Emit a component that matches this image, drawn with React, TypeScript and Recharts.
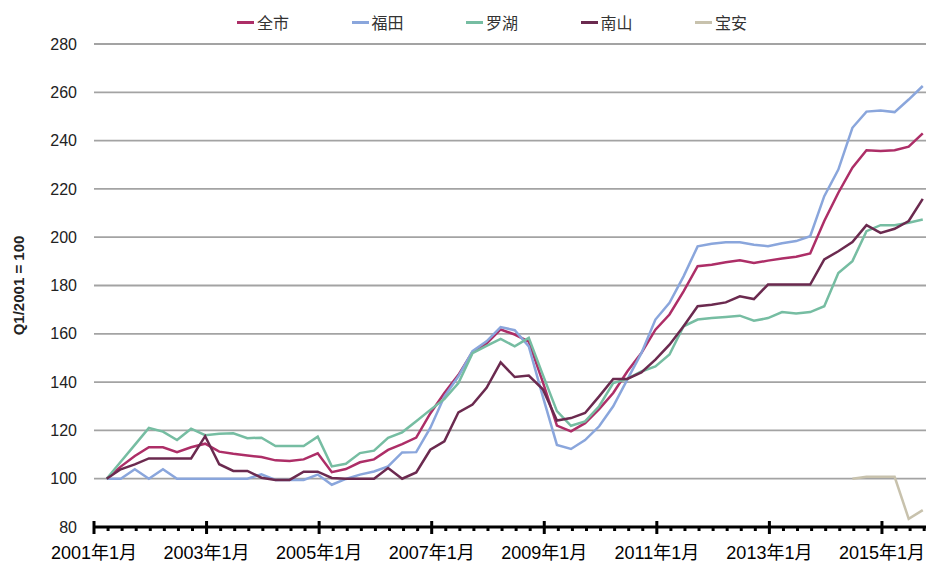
import React from 'react';
import { LineChart, Line, XAxis, YAxis, CartesianGrid, Legend } from 'recharts';

// Quarterly categories (Q1/2001 = 100)
const quarters = [
  '2001Q1', '2001Q2', '2001Q3', '2001Q4',
  '2002Q1', '2002Q2', '2002Q3', '2002Q4',
  '2003Q1', '2003Q2', '2003Q3', '2003Q4',
  '2004Q1', '2004Q2', '2004Q3', '2004Q4',
  '2005Q1', '2005Q2', '2005Q3', '2005Q4',
  '2006Q1', '2006Q2', '2006Q3', '2006Q4',
  '2007Q1', '2007Q2', '2007Q3', '2007Q4',
  '2008Q1', '2008Q2', '2008Q3', '2008Q4',
  '2009Q1', '2009Q2', '2009Q3', '2009Q4',
  '2010Q1', '2010Q2', '2010Q3', '2010Q4',
  '2011Q1', '2011Q2', '2011Q3', '2011Q4',
  '2012Q1', '2012Q2', '2012Q3', '2012Q4',
  '2013Q1', '2013Q2', '2013Q3', '2013Q4',
  '2014Q1', '2014Q2', '2014Q3', '2014Q4',
  '2015Q1', '2015Q2', '2015Q3',
];

const quanshi = [
  100, 105, 109.4, 113, 113, 111, 113, 114.5,
  111.2, 110.3, 109.6, 109, 107.6, 107.3, 108, 110.5,
  102.7, 104, 106.8, 108, 111.9, 114.3, 117, 127,
  135.5, 143, 152.5, 156, 161.8, 159.7, 156.8, 140,
  122, 119.6, 123, 128.8, 135.5, 144.4, 152, 161.7,
  168, 177.6, 188, 188.6, 189.6, 190.4, 189.3, 190.3,
  191.2, 191.9, 193.3, 206.7, 218.4, 228.8, 236, 235.7,
  236, 237.5, 243,
];

const futian = [
  100, 100, 103.9, 100, 103.9, 100, 100, 100,
  100, 100, 100, 101.8, 99.5, 99.5, 99.5, 101.7,
  97.5, 99.9, 101.7, 103, 105.1, 110.9, 111, 121,
  134, 142.4, 152.8, 156.9, 162.8, 161.5, 154.8, 134,
  114, 112.3, 116, 121.7, 130, 141, 152, 165.9,
  172.8, 183.8, 196.2, 197.3, 197.9, 197.9, 196.9, 196.3,
  197.5, 198.4, 200.4, 217, 228, 245.3, 252, 252.5,
  251.8, 257, 262.6,
];

const luohu = [
  100, 107, 114, 121, 119.5, 116, 120.7, 118,
  118.6, 118.8, 116.8, 117, 113.5, 113.5, 113.5, 117.4,
  105.1, 106.2, 110.6, 111.6, 116.9, 119.2, 123.8, 128.5,
  133, 139.6, 152, 155, 157.9, 154.8, 158.3, 143,
  128, 121.9, 123.7, 130, 139.6, 141.3, 144.4, 146.5,
  151.4, 163.1, 165.9, 166.5, 167, 167.5, 165.4, 166.5,
  169, 168.4, 169, 171.4, 185.2, 190.1, 202.5, 205,
  205, 206, 207.3,
];

const nanshan = [
  100, 103.9, 105.9, 108.4, 108.4, 108.4, 108.4, 117.6,
  106, 103.2, 103.2, 100.4, 99.5, 99.5, 102.9, 102.9,
  100.3, 100, 100, 100, 104.4, 100, 102.6, 112,
  115.5, 127.5, 130.7, 137.6, 148.2, 142.1, 142.7, 137,
  124.1, 125.1, 127.2, 134.1, 141.3, 141.3, 144, 149.3,
  155.5, 163.1, 171.4, 172, 173, 175.5, 174.4, 180.4,
  180.4, 180.4, 180.4, 190.8, 194.2, 198, 205, 201.8,
  203.5, 206.7, 215.9,
];

const baoan = [
  null, null, null, null, null, null, null, null,
  null, null, null, null, null, null, null, null,
  null, null, null, null, null, null, null, null,
  null, null, null, null, null, null, null, null,
  null, null, null, null, null, null, null, null,
  null, null, null, null, null, null, null, null,
  null, null, null, null, null, 100, 100.8, 100.8,
  100.8, 83.4, 87,
];

const xTickLabels = [
  '2001年1月', '2003年1月', '2005年1月', '2007年1月',
  '2009年1月', '2011年1月', '2013年1月', '2015年1月',
];

const yTicks = [80, 100, 120, 140, 160, 180, 200, 220, 240, 260, 280];

const seriesDefs = [
  { key: 'quanshi', name: '全市', color: '#AD2E67', values: quanshi },
  { key: 'futian', name: '福田', color: '#8AA6DC', values: futian },
  { key: 'luohu', name: '罗湖', color: '#76BDA2', values: luohu },
  { key: 'nanshan', name: '南山', color: '#6B2A4F', values: nanshan },
  { key: 'baoan', name: '宝安', color: '#C8C2AD', values: baoan },
];

// Points are plotted near the end of each quarter on a date axis whose ticks are quarter starts
const POINT_OFFSET = 0.9;
const quarterPos = (q: string) => {
  const year = parseInt(q.slice(0, 4), 10);
  const qq = parseInt(q.slice(5), 10);
  return (year - 2001) * 4 + (qq - 1);
};

const data = quarters.map((q, i) => {
  const row: any = { q, x: quarterPos(q) + POINT_OFFSET };
  seriesDefs.forEach((s) => {
    row[s.key] = s.values[i];
  });
  return row;
});

const quarterTicks: number[] = [];
for (let k = 0; k <= 59; k++) quarterTicks.push(k);

const AxisTick = (props: any) => {
  const { x, y, payload } = props;
  const v = Math.round(payload.value);
  if (v % 8 === 0) {
    const label = xTickLabels[v / 8];
    return (
      <g>
        <line x1={x} x2={x} y1={y - 6} y2={y + 7} stroke="#000" strokeWidth={3} />
        <text
          x={x}
          y={y + 32}
          textAnchor="middle"
          fill="#000"
          fontSize={18}
          fontFamily="'Liberation Sans Narrow', 'Liberation Sans', 'Noto Sans CJK SC', sans-serif"
        >
          {label}
        </text>
      </g>
    );
  }
  return <line x1={x} x2={x} y1={y} y2={y + 4} stroke="#000" strokeWidth={3} />;
};

const LegendContent = () => (
  <div style={{ display: 'flex', alignItems: 'center' }}>
    {seriesDefs.map((s) => (
      <div key={s.key} style={{ display: 'flex', alignItems: 'center', width: 114.5 }}>
        <span style={{ display: 'inline-block', width: 17, height: 3, background: s.color, marginRight: 3 }} />
        <span
          style={{
            fontSize: 16,
            color: '#333',
            fontFamily: "'Noto Sans CJK SC', sans-serif",
            lineHeight: '20px',
          }}
        >
          {s.name}
        </span>
      </div>
    ))}
  </div>
);

const YLabel = (props: any) => {
  const vb = props.viewBox || { x: 0, y: 44, width: 94, height: 483 };
  const cx = vb.x + 18;
  const cy = vb.y + vb.height / 2;
  return (
    <text
      x={cx}
      y={cy}
      transform={`rotate(-90, ${cx}, ${cy})`}
      textAnchor="middle"
      dominantBaseline="central"
      fontSize={15}
      fontWeight="bold"
      fill="#222"
      fontFamily="'Liberation Sans Narrow', 'Liberation Sans', Arial, sans-serif"
    >
      Q1/2001 = 100
    </text>
  );
};

export default function App() {
  return (
    <div style={{ position: 'absolute', left: 0, top: 0, width: 926, height: 562, background: '#fff' }}>
      <LineChart width={926} height={562} data={data} margin={{ top: 44, right: 0, bottom: 0, left: 0 }}>
        <CartesianGrid horizontal vertical={false} stroke="#A3A3A3" strokeWidth={1.8} />
        <XAxis
          dataKey="x"
          type="number"
          domain={[0, 59.13]}
          ticks={quarterTicks}
          interval={0}
          allowDecimals
          height={35}
          tickSize={0}
          tickMargin={0}
          tickLine={false}
          axisLine={{ stroke: '#000', strokeWidth: 3 }}
          tick={(p: any) => <AxisTick {...p} />}
        />
        <YAxis
          type="number"
          domain={[80, 280]}
          ticks={yTicks}
          interval={0}
          width={94}
          axisLine={false}
          tickLine={false}
          tickSize={0}
          tickMargin={17}
          tick={{
            fontSize: 16,
            fill: '#222',
            fontFamily: "'Liberation Sans Narrow', 'Liberation Sans', Arial, sans-serif",
          }}
          label={{ content: (p: any) => <YLabel {...p} /> }}
        />
        <Legend
          layout="horizontal"
          verticalAlign="middle"
          align="center"
          wrapperStyle={{ top: 12, left: 237, width: 600 }}
          content={() => <LegendContent />}
        />
        {seriesDefs.map((s) => (
          <Line
            key={s.key}
            type="linear"
            dataKey={s.key}
            name={s.name}
            stroke={s.color}
            strokeWidth={2.5}
            dot={false}
            activeDot={false}
            connectNulls={false}
            isAnimationActive={false}
          />
        ))}
      </LineChart>
    </div>
  );
}
